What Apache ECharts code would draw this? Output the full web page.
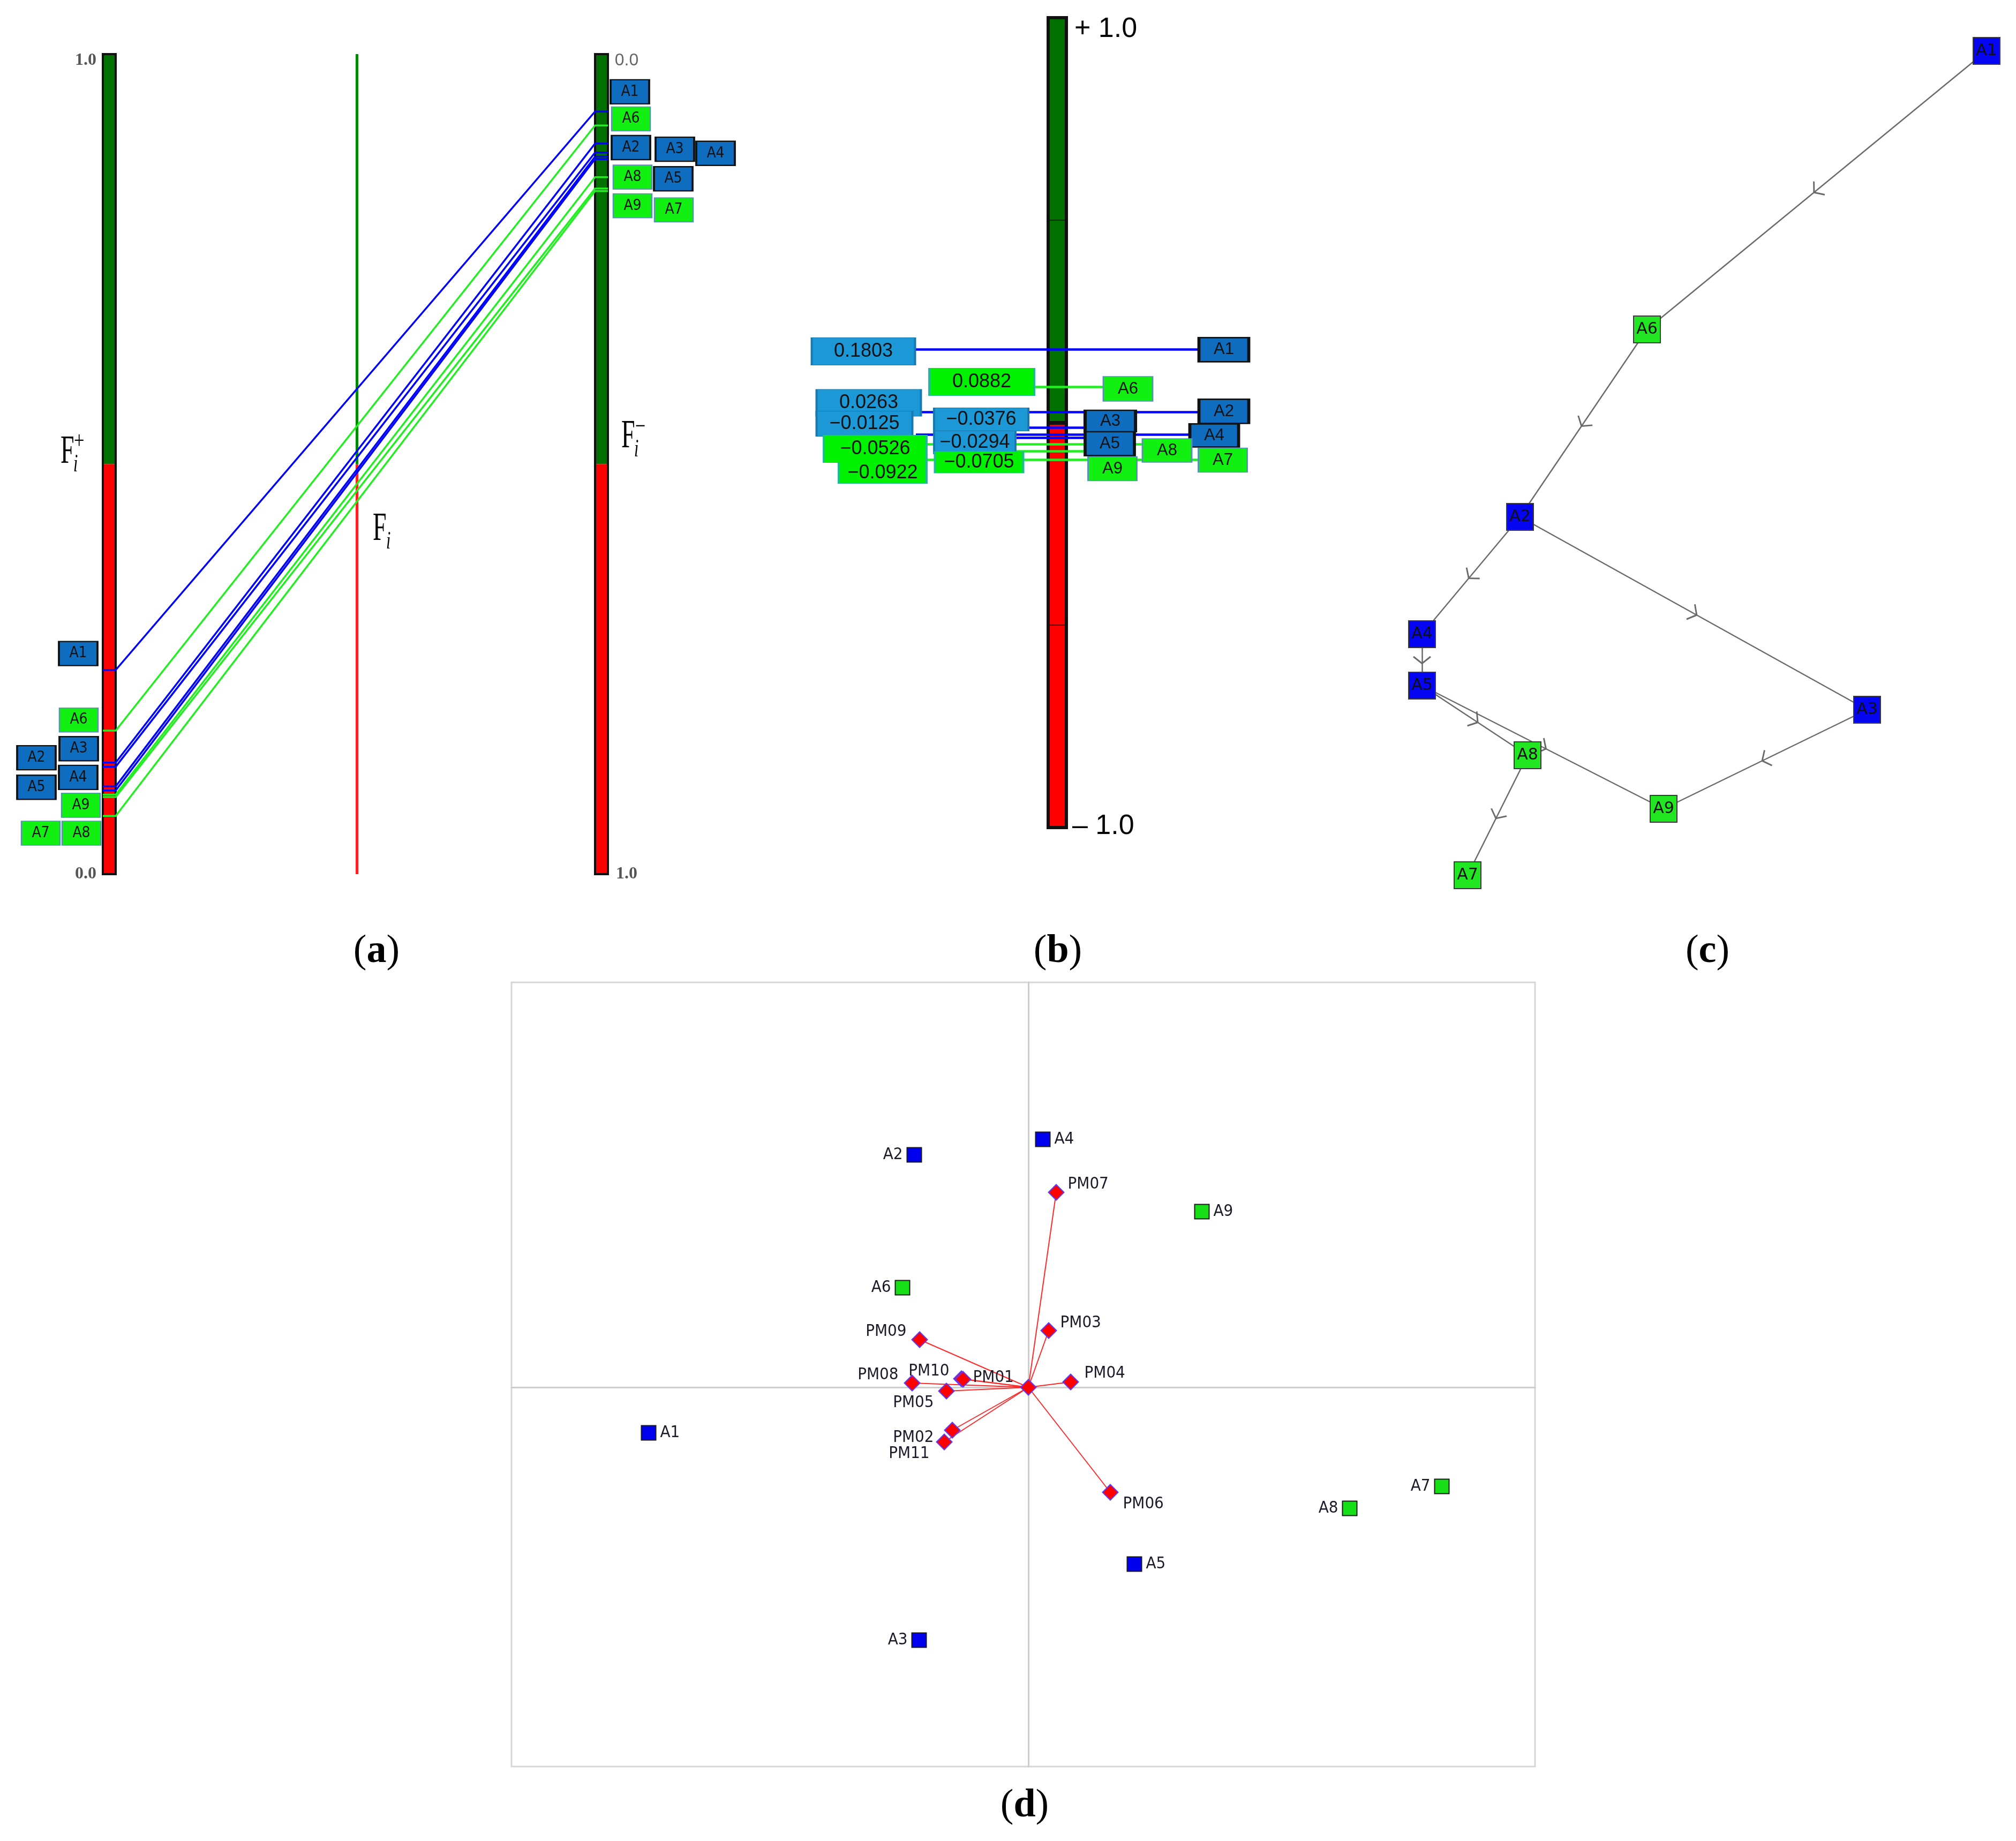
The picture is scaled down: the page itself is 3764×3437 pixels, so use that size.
<!DOCTYPE html>
<html>
<head>
<meta charset="utf-8">
<script src="https://cdn.jsdelivr.net/npm/echarts@6.0.0/dist/echarts.min.js"></script>
<style>
html,body{margin:0;padding:0;background:#ffffff;}
#chart{width:3764px;height:3437px;}
</style>
</head>
<body>
<div id="chart"></div>
<script>
// ================= DATA =================
const alternatives = ['A1','A2','A3','A4','A5','A6','A7','A8','A9'];
const altGroup     = ['blue','blue','blue','blue','blue','green','green','green','green'];
// (a) PROMETHEE I flows
const phiPlus  = [0.249, 0.136, 0.131, 0.107, 0.102, 0.175, 0.071, 0.097, 0.094];
const phiMinus = [0.070, 0.109, 0.120, 0.125, 0.128, 0.087, 0.167, 0.150, 0.164];
// (b) PROMETHEE II net flows
const netFlow  = [0.1803, 0.0263, -0.0125, -0.0294, -0.0376, 0.0882, -0.0922, -0.0526, -0.0705];
// (c) ranking graph
const rankEdges = [['A1','A6'],['A6','A2'],['A2','A4'],['A2','A3'],['A4','A5'],['A5','A8'],['A5','A9'],['A3','A9'],['A8','A7']];
const graphX = [1129, 258, 906, 75, 75, 495, 160, 272, 526];
const graphY = [95, 965, 1325, 1184, 1280, 615, 1634, 1410, 1510];
// (d) GAIA plane
const gaiaAltX = [-7.09, -2.13, -2.04, 0.27, 1.98, -2.35, 7.72, 6.00, 3.24];
const gaiaAltY = [-0.85, 4.34, -4.72, 4.63, -3.30, 1.86, -1.85, -2.26, 3.28];
const criteria = ['PM01','PM02','PM03','PM04','PM05','PM06','PM07','PM08','PM09','PM10','PM11'];
const critX = [-1.25, -1.42, 0.38, 0.79, -1.53, 1.53, 0.52, -2.17, -2.03, -1.22, -1.57];
const critY = [0.16, -0.80, 1.06, 0.10, -0.07, -1.96, 3.64, 0.08, 0.89, 0.15, -1.02];
// tick / scale labels and captions
const scaleTicksA = ['1.0', '0.0'];
const scaleTicksB = ['+ 1.0', '\u2013 1.0'];
const captions = ['a', 'b', 'c', 'd'];

// ================= LAYOUT / STYLE =================
const C = {
  blueLine:'#0000ff', greenLine:'#22ee22',
  boxBlue:'#0f6dbf', boxGreen:'#12f012', boxGreenBorder:'#5a90b8',
  barGreen:'#007000', barRed:'#ff0000',
  valBlue:'#1d98d6', valBlueBorder:'#1878b0', valGreen:'#00f200', valGreenBorder:'#22b8a0',
  nodeBlue:'#0505f2', nodeGreen:'#22e622',
  gaiaBlue:'#0000ee', gaiaGreen:'#18e018', crit:'#ff0000', critBorder:'#5a3cff'
};
const BOXFONT = '"DejaVu Sans Condensed","DejaVu Sans",sans-serif';
const LA = {
  barL:[192,216], barR:[1111,1135], midX:666, box:[72,45],
  labL:{A1:[146,0.269],A2:[68,0.142],A3:[147,0.153],A4:[146,0.118],A5:[68,0.106],A6:[147,0.188],A7:[76,0.050],A8:[152,0.050],A9:[151,0.084]},
  labR:{A1:[1176,0.046],A2:[1178,0.114],A3:[1260,0.116],A4:[1336,0.121],A5:[1257,0.152],A6:[1178,0.079],A7:[1258,0.190],A8:[1181,0.150],A9:[1181,0.185]}
};
const LB = {
  bar:[1957,1991],
  valBox:{A1:[1612,0.176,193,51],A2:[1622,0.049,195,50],A3:[1614,-0.0026,179,47],A4:[1820,-0.049,152,43],A5:[1832,0.0079,176,43],A6:[1833,0.1005,196,51],A7:[1648,-0.1243,164,39],A8:[1634,-0.0648,192,51],A9:[1828,-0.0979,165,40]},
  altBox:{A1:[2285,0.180,93,45],A2:[2285,0.0278,93,45],A3:[2073,0.004,94,40],A4:[2267,-0.0317,91,43],A5:[2072,-0.0516,92,45],A6:[2106,0.0833,92,46],A7:[2283,-0.0926,91,45],A8:[2179,-0.0688,92,44],A9:[2077,-0.1138,91,45]},
  lineX:{A1:[1709,2239],A2:[1720,2239],A3:[1920,2026],A4:[1710,2222],A5:[1898,2027],A6:[1931,2060],A7:[1730,2238],A8:[1730,2134],A9:[1898,2032]},
  valOrder:['A1','A6','A2','A3','A5','A4','A8','A9','A7'],
  altOrder:['A1','A6','A2','A4','A5','A3','A8','A7','A9']
};
const LD = {
  altLabel:{A1:'right',A2:'left',A3:'left',A4:'right',A5:'right',A6:'left',A7:'left',A8:'left',A9:'right'},
  critLabel:{PM01:['right',[0,-2]],PM02:['left',[-13,14]],PM03:['right',[0,-14]],PM04:['right',[4,-16]],PM05:['left',[-2,22]],PM06:['right',[2,22]],PM07:['right',[0,-15]],PM08:['left',[-4,-15]],PM09:['left',[-3,-15]],PM10:['left',[-4,-15]],PM11:['left',[-6,22]]}
};
// open chevron (tip pointing "up" = along the edge), padded to a square box
const CHEV = 'path://M10,0 L10.05,0 L10.05,0.05 Z M10,5 L20,13 L18.8,14.2 L10,7.2 L1.2,14.2 L0,13 Z M10,20 L10.05,20 L10.05,19.95 Z';

// ================= BUILD =================
const idx = {}; alternatives.forEach((a,i)=>idx[a]=i);
const isBlue = a => altGroup[idx[a]] === 'blue';
const series = [];

function rectSeries(xi, rects) {
  return {
    type:'custom', xAxisIndex:xi, yAxisIndex:xi, z:1, silent:true,
    data: rects.map(r => r.v),
    renderItem: (params, api) => {
      const r = rects[params.dataIndex];
      const p0 = api.coord([r.v[0], r.v[3]]);
      const p1 = api.coord([r.v[1], r.v[2]]);
      return {type:'rect', shape:{x:p0[0], y:p0[1], width:p1[0]-p0[0], height:p1[1]-p0[1]},
        style:{fill:r.fill || 'rgba(0,0,0,0)', stroke:r.stroke || null, lineWidth:r.lw || 0}};
    }
  };
}

// ---- (a) ----
const [bl0,bl1] = LA.barL, [br0,br1] = LA.barR;
series.push(rectSeries(0, [
  {v:[bl0,bl1,0.5,1], fill:C.barGreen}, {v:[bl0,bl1,0,0.5], fill:C.barRed},
  {v:[br0,br1,0.5,1], fill:C.barGreen}, {v:[br0,br1,0,0.5], fill:C.barRed},
  {v:[bl0,bl1,0,1], stroke:'#111', lw:4}, {v:[br0,br1,0,1], stroke:'#111', lw:4}
]));
series.push({type:'lines', coordinateSystem:'cartesian2d', xAxisIndex:0, yAxisIndex:0, z:2, silent:true,
  data:[
    {coords:[[LA.midX,0],[LA.midX,0.5]], lineStyle:{color:'#ff2020'}},
    {coords:[[LA.midX,0.5],[LA.midX,1]], lineStyle:{color:'#008a00'}}
  ],
  lineStyle:{width:5, opacity:1}});
const flowOrder = [5,6,7,8,0,1,2,3,4];
series.push({type:'lines', coordinateSystem:'cartesian2d', xAxisIndex:0, yAxisIndex:0, polyline:true, z:3, silent:true,
  data: flowOrder.map(i => ({
    coords:[[bl0,phiPlus[i]],[bl1,phiPlus[i]],[br0,1-phiMinus[i]],[br1,1-phiMinus[i]]],
    lineStyle:{color: altGroup[i]==='blue' ? C.blueLine : C.greenLine}
  })),
  lineStyle:{width:3.5, opacity:1}});
function aBox(a, x, y) {
  const b = isBlue(a);
  return {name:a, value:[x,y], symbolSize:LA.box,
    itemStyle:{color: b?C.boxBlue:C.boxGreen, borderColor: b?'#111':C.boxGreenBorder, borderWidth: b?3:2, opacity:1}};
}
const aLabel = {show:true, position:'inside', formatter:p=>p.name, color:'#111', fontSize:28, fontFamily:BOXFONT};
series.push({type:'scatter', xAxisIndex:0, yAxisIndex:0, symbol:'rect', z:4, silent:true, label:aLabel,
  itemStyle:{opacity:1},
  data: alternatives.map(a => aBox(a, LA.labL[a][0], LA.labL[a][1]))});
series.push({type:'scatter', xAxisIndex:0, yAxisIndex:0, symbol:'rect', z:4, silent:true, label:aLabel,
  itemStyle:{opacity:1},
  data: alternatives.map(a => aBox(a, LA.labR[a][0], 1 - LA.labR[a][1]))});

// ---- (b) ----
const [bb0,bb1] = LB.bar;
series.push(rectSeries(1, [
  {v:[bb0,bb1,0,1], fill:C.barGreen}, {v:[bb0,bb1,-1,0], fill:C.barRed},
  {v:[bb0,bb1,0.5,1], stroke:'#0c2a0c', lw:2}, {v:[bb0,bb1,-1,-0.5], stroke:'#5a0000', lw:2},
  {v:[bb0,bb1,-1,1], stroke:'#111', lw:6}
]));
series.push({type:'lines', coordinateSystem:'cartesian2d', xAxisIndex:1, yAxisIndex:1, z:2, silent:true,
  data:[{coords:[[bb0,0],[bb1,0]]}], lineStyle:{color:'#111', width:7, opacity:1}});
series.push({type:'lines', coordinateSystem:'cartesian2d', xAxisIndex:1, yAxisIndex:1, z:3, silent:true,
  data: ['A6','A8','A9','A7','A1','A2','A3','A4','A5'].map(a => ({
    coords:[[LB.lineX[a][0], netFlow[idx[a]]],[LB.lineX[a][1], netFlow[idx[a]]]],
    lineStyle:{color: isBlue(a)?C.blueLine:C.greenLine}
  })),
  lineStyle:{width:4.5, opacity:1}});
const fmtFlow = v => (v < 0 ? '\u2212' : '') + Math.abs(v).toFixed(4);
series.push({type:'scatter', xAxisIndex:1, yAxisIndex:1, symbol:'rect', z:4, silent:true,
  itemStyle:{opacity:1},
  label:{show:true, position:'inside', formatter:p=>fmtFlow(netFlow[idx[p.name]]), color:'#111', fontSize:36, fontFamily:'"Liberation Sans",Arial,sans-serif'},
  data: LB.valOrder.map(a => {
    const b = LB.valBox[a], blue = isBlue(a);
    return {name:a, value:[b[0], b[1]], symbolSize:[b[2], b[3]],
      itemStyle:{color: blue?C.valBlue:C.valGreen, borderColor: blue?C.valBlueBorder:C.valGreenBorder, borderWidth:2, opacity:1}};
  })});
series.push({type:'scatter', xAxisIndex:1, yAxisIndex:1, symbol:'rect', z:4, silent:true,
  itemStyle:{opacity:1},
  label:{show:true, position:'inside', formatter:p=>p.name, color:'#111', fontSize:31, fontFamily:'"Liberation Sans",Arial,sans-serif'},
  data: LB.altOrder.map(a => {
    const b = LB.altBox[a], blue = isBlue(a);
    return {name:a, value:[b[0], b[1]], symbolSize:[b[2], b[3]],
      itemStyle:{color: blue?C.boxBlue:C.boxGreen, borderColor: blue?'#111':C.boxGreenBorder, borderWidth: blue?4:2, opacity:1}};
  })});

// ---- (c) ----
const gpos = a => [graphX[idx[a]], graphY[idx[a]]];
const half1 = [], half2 = [];
rankEdges.forEach(([s,t]) => {
  const p = gpos(s), q = gpos(t), m = [(p[0]+q[0])/2, (p[1]+q[1])/2];
  half1.push({coords:[p,m]}); half2.push({coords:[m,q]});
});
const edgeStyle = {color:'#6a6a6a', width:2.5, opacity:1};
series.push({type:'lines', coordinateSystem:'cartesian2d', xAxisIndex:2, yAxisIndex:2, z:2, silent:true,
  symbol:['none', CHEV], symbolSize:[0, 34], lineStyle:edgeStyle, data:half1});
series.push({type:'lines', coordinateSystem:'cartesian2d', xAxisIndex:2, yAxisIndex:2, z:2, silent:true,
  symbol:'none', lineStyle:edgeStyle, data:half2});
series.push({type:'scatter', xAxisIndex:2, yAxisIndex:2, symbol:'rect', symbolSize:[50,50], z:4, silent:true,
  itemStyle:{borderColor:'#3a3a3a', borderWidth:2, opacity:1},
  label:{show:true, position:'inside', formatter:p=>p.name, color:'#111', fontSize:30, fontFamily:'"DejaVu Sans",sans-serif'},
  data: alternatives.map((a,i) => ({name:a, value:[graphX[i], graphY[i]],
    itemStyle:{color: altGroup[i]==='blue'?C.nodeBlue:C.nodeGreen, opacity:1}}))});

// ---- (d) ----
const dFont = {color:'#1a1a28', fontSize:31, fontFamily:BOXFONT};
series.push({type:'lines', coordinateSystem:'cartesian2d', xAxisIndex:3, yAxisIndex:3, z:2, silent:true,
  data: criteria.map((c,i) => ({coords:[[0,0],[critX[i],critY[i]]]})),
  lineStyle:{color:'#ff2a2a', width:2, opacity:1}});
series.push({type:'scatter', xAxisIndex:3, yAxisIndex:3, symbol:'diamond', symbolSize:29, z:4, silent:true,
  itemStyle:{color:C.crit, borderColor:C.critBorder, borderWidth:2, opacity:1},
  data: criteria.map((c,i) => ({name:c, value:[critX[i], critY[i]],
    label:Object.assign({show:true, formatter:c, position:LD.critLabel[c][0], offset:LD.critLabel[c][1], distance:6}, dFont)}))
    .concat([{name:'origin', value:[0,0], label:{show:false}}])});
series.push({type:'scatter', xAxisIndex:3, yAxisIndex:3, symbol:'rect', symbolSize:27, z:4, silent:true,
  itemStyle:{borderColor:'#1a1a1a', borderWidth:2, opacity:1},
  data: alternatives.map((a,i) => ({name:a, value:[gaiaAltX[i], gaiaAltY[i]],
    itemStyle:{color: altGroup[i]==='blue'?C.gaiaBlue:C.gaiaGreen, opacity:1},
    label:Object.assign({show:true, formatter:a, position:LD.altLabel[a], distance:7}, dFont)}))});

// ---- axes / grids ----
const hidden = (gi, min, max, inv) => ({gridIndex:gi, type:'value', min:min, max:max, inverse:!!inv, show:false});
const dAxis = (min, max) => ({gridIndex:3, type:'value', min:min, max:max,
  axisLine:{show:true, onZero:true, lineStyle:{color:'#cdcdcd', width:3}},
  axisTick:{show:false}, axisLabel:{show:false}, splitLine:{show:false}});

// ---- annotations ----
function T(x, y, text, font, extra, align, fill) {
  const a = align || 'left';
  return Object.assign({type:'text', x:x, y:y, z:100, silent:true,
    style:{text:text, font:font, fill:fill || '#000', align:a, verticalAlign:'middle', textAlign:a, textVerticalAlign:'middle'}}, extra || {});
}
const serif = '"Liberation Serif","DejaVu Serif",serif';
const tickFont = 'bold 32px ' + serif;
const graphic = [
  // (a) scale labels
  T(160, 113, scaleTicksA[0], tickFont, null, 'center', '#555'),
  T(160, 1632, scaleTicksA[1], tickFont, null, 'center', '#555'),
  T(1170, 113, scaleTicksA[1], '32px "Liberation Sans",sans-serif', null, 'center', '#666'),
  T(1170, 1632, scaleTicksA[0], tickFont, null, 'center', '#555'),
  // (a) F labels
  T(113, 845, 'F', '74px ' + serif, {scaleX:0.62}),
  T(137, 868, 'i', 'italic 46px ' + serif, {scaleX:0.65}),
  T(138, 825, '+', '46px ' + serif, {scaleX:0.75}),
  T(696, 989, 'F', '74px ' + serif, {scaleX:0.62}),
  T(721, 1012, 'i', 'italic 46px ' + serif, {scaleX:0.65}),
  T(1160, 816, 'F', '74px ' + serif, {scaleX:0.62}),
  T(1184, 840, 'i', 'italic 46px ' + serif, {scaleX:0.65}),
  T(1186, 798, '\u2212', '46px ' + serif, {scaleX:0.75}),
  // (b) scale labels
  T(2006, 55, scaleTicksB[0], '52px "Liberation Sans",Arial,sans-serif'),
  T(2002, 1543, scaleTicksB[1], '52px "Liberation Sans",Arial,sans-serif')
];
const capPos = [[703,1777],[1975,1777],[3188,1777],[1913,3372]];
captions.forEach((c,i) => {
  graphic.push({type:'text', x:capPos[i][0], y:capPos[i][1], z:100, silent:true,
    style:{text:'{p|(}{b|' + c + '}{p|)}', align:'center', verticalAlign:'middle', textAlign:'center', textVerticalAlign:'middle',
      rich:{p:{fontSize:74, fontFamily:serif, fill:'#000', color:'#000'}, b:{fontSize:74, fontFamily:serif, fontWeight:'bold', fill:'#000', color:'#000'}}}});
});

const option = {
  animation:false,
  backgroundColor:'#ffffff',
  grid:[
    {left:0, top:101, width:1400, height:1531, show:false},
    {left:1480, top:33, width:920, height:1512, show:false},
    {left:2580, top:0, width:1184, height:1700, show:false},
    {left:955, top:1834, width:1911, height:1464, show:true, borderColor:'#d6d6d6', borderWidth:3, backgroundColor:'transparent'}
  ],
  xAxis:[hidden(0,0,1400), hidden(1,1480,2400), hidden(2,0,1184), dAxis(-9.65, 9.46)],
  yAxis:[hidden(0,0,1), hidden(1,-1,1), hidden(2,0,1700,true), dAxis(-7.08, 7.56)],
  series:series,
  graphic:graphic
};
const chart = echarts.init(document.getElementById('chart'), null, {renderer:'canvas', width:3764, height:3437});
chart.setOption(option);
</script>
</body>
</html>
